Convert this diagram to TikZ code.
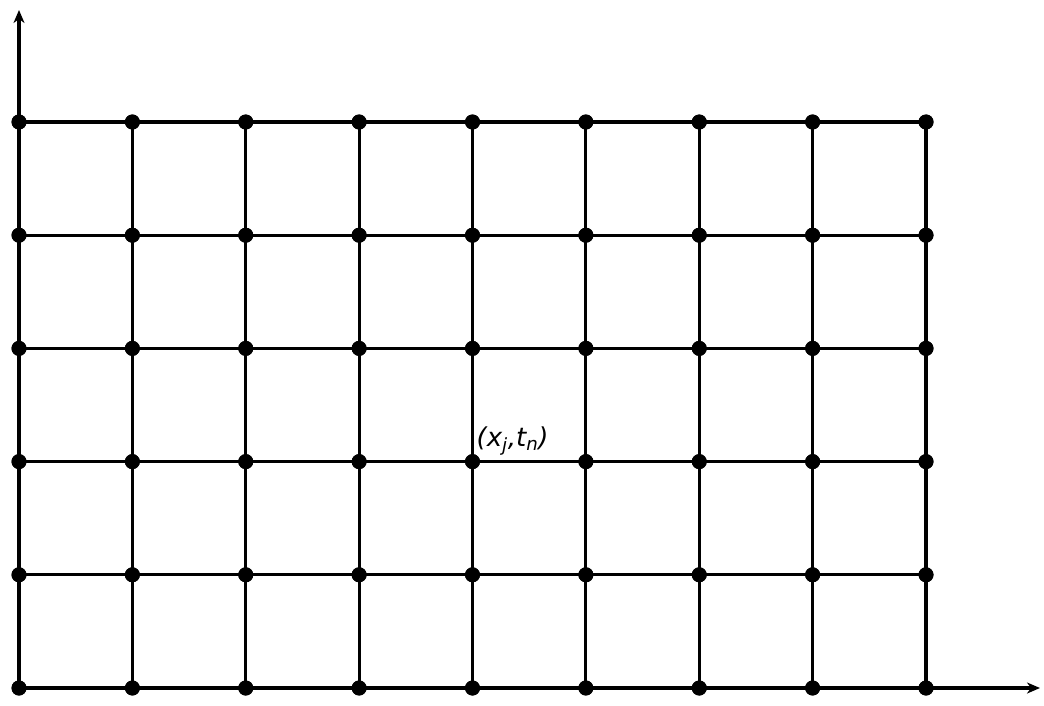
\documentclass[tikz,border=0pt]{standalone}
\usepackage{fontspec}
\setmainfont{DejaVu Sans}
\usetikzlibrary{arrows.meta}
\begin{document}
\begin{tikzpicture}[x=1pt,y=-1pt,
  gridline/.style={line width=3.2pt},
  dot/.style={circle,fill=black,inner sep=0pt,minimum size=15pt},
  axis/.style={line width=3.2pt,-{Stealth[length=13pt,width=11pt,inset=4pt]}},
  lbl/.style={font=\fontsize{26}{30}\selectfont\itshape,inner sep=0pt}]
\useasboundingbox (0,0) rectangle (1044,706);
\foreach \i in {0,...,8}{
  \foreach \j in {0,...,5}{
    \node[dot] (p-\i-\j) at ({19+113.375*\i},{688-113.2*\j}) {};
  }
}
\coordinate (xend) at (1040,688);
\coordinate (yend) at (19,10);
\foreach \j in {1,...,5}{
  \draw[gridline] (p-0-\j.center) -- (p-8-\j.center);
}
\foreach \i in {1,...,8}{
  \draw[gridline] (p-\i-0.center) -- (p-\i-5.center);
}
\draw[axis] (p-0-0.center) -- (xend);
\draw[axis] (p-0-0.center) -- (yend);
\foreach \i in {0,...,8}{
  \foreach \j in {0,...,5}{
    \fill (p-\i-\j) circle (7.5pt);
  }
}
\node[lbl,anchor=base west] (lab) at ([xshift=4pt,yshift=15pt]p-4-2.center) {(x\textsubscript{j},t\textsubscript{n})};
\end{tikzpicture}
\end{document}
